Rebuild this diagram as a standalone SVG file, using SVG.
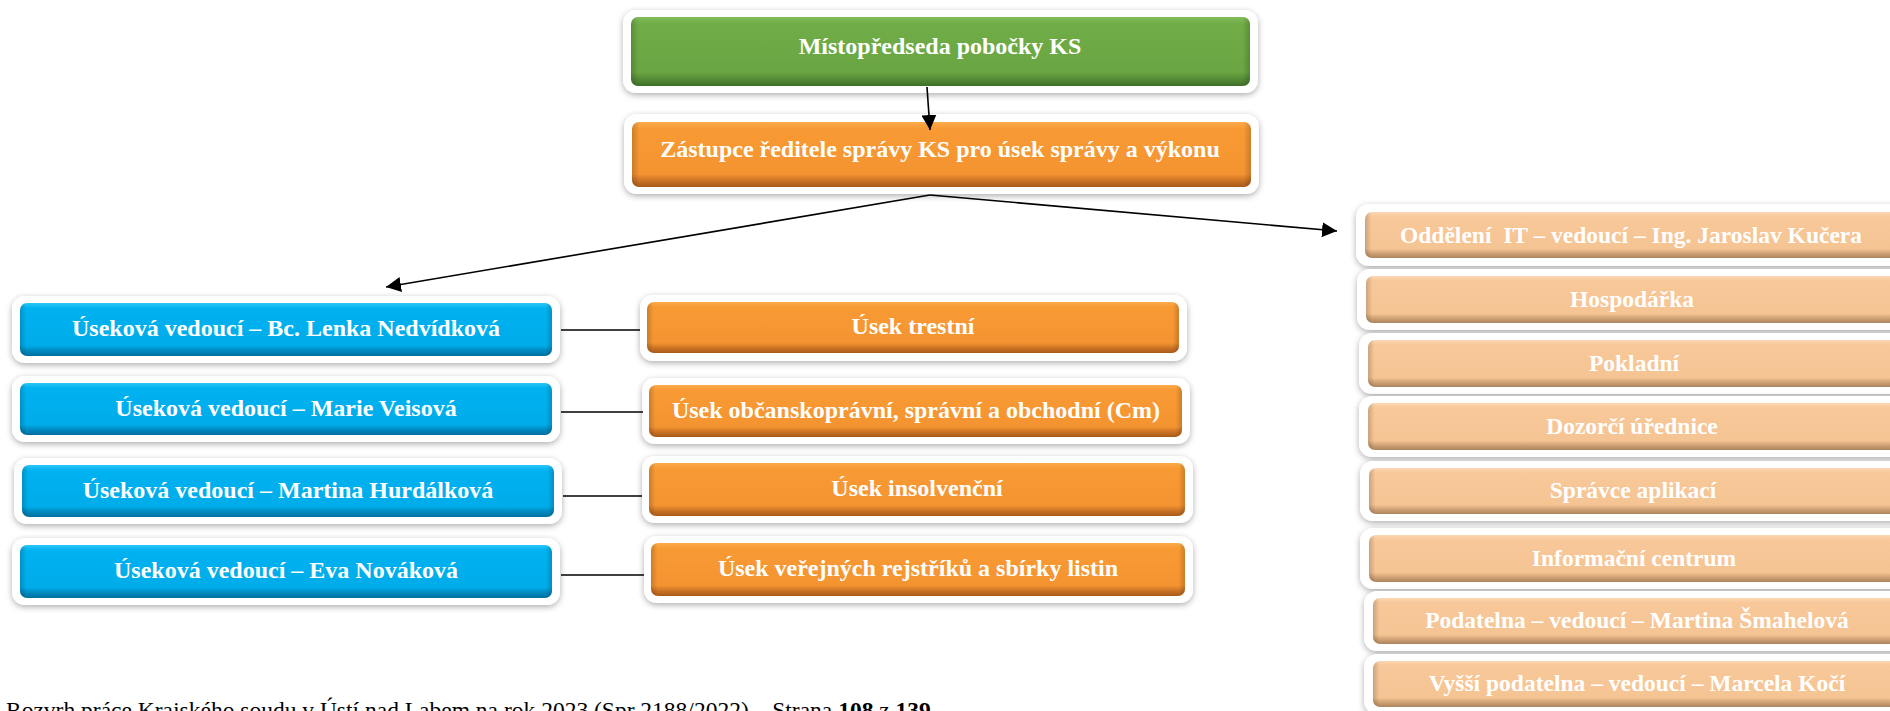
<svg xmlns="http://www.w3.org/2000/svg" width="1890" height="711" viewBox="0 0 1890 711">
<defs>
<filter id="sh" x="-5%" y="-40%" width="110%" height="180%">
<feDropShadow dx="0" dy="2" stdDeviation="3" flood-color="#000" flood-opacity="0.32"/>
</filter>
<linearGradient id="gGreen" x1="0" y1="0" x2="0" y2="1">
<stop offset="0" stop-color="#82bd5c"/><stop offset="0.1" stop-color="#70ad47"/><stop offset="0.8" stop-color="#69a643"/><stop offset="0.9" stop-color="#548c36"/><stop offset="1" stop-color="#3f6e28"/>
</linearGradient>
<linearGradient id="gOrange" x1="0" y1="0" x2="0" y2="1">
<stop offset="0" stop-color="#fcab4c"/><stop offset="0.1" stop-color="#f89a34"/><stop offset="0.8" stop-color="#f49431"/><stop offset="0.9" stop-color="#cc7325"/><stop offset="1" stop-color="#a85a18"/>
</linearGradient>
<linearGradient id="gBlue" x1="0" y1="0" x2="0" y2="1">
<stop offset="0" stop-color="#2cc6f8"/><stop offset="0.1" stop-color="#00b2f0"/><stop offset="0.8" stop-color="#00acea"/><stop offset="0.9" stop-color="#0089c0"/><stop offset="1" stop-color="#006f9d"/>
</linearGradient>
<linearGradient id="gPeach" x1="0" y1="0" x2="0" y2="1">
<stop offset="0" stop-color="#fcd7b2"/><stop offset="0.1" stop-color="#f8c89a"/><stop offset="0.8" stop-color="#f5c493"/><stop offset="0.9" stop-color="#cfa174"/><stop offset="1" stop-color="#ad845e"/>
</linearGradient>
<linearGradient id="gSide" x1="0" y1="0" x2="1" y2="0">
<stop offset="0" stop-color="#000" stop-opacity="0.18"/><stop offset="0.012" stop-color="#000" stop-opacity="0"/><stop offset="0.988" stop-color="#000" stop-opacity="0"/><stop offset="1" stop-color="#000" stop-opacity="0.18"/>
</linearGradient>
<marker id="ah" markerWidth="15" markerHeight="15" refX="15" refY="7.5" orient="auto" markerUnits="userSpaceOnUse">
<path d="M0,0 L15,7.5 L0,15 z" fill="#000"/>
</marker>
<style>
.frame{fill:#fff;filter:url(#sh)}
.green{fill:url(#gGreen)}
.orange{fill:url(#gOrange)}
.blue{fill:url(#gBlue)}
.peach{fill:url(#gPeach)}
.side{fill:url(#gSide)}
.tb{font-family:"Liberation Serif",serif;font-weight:bold;font-size:24px;fill:#fff;text-anchor:middle}
.tr{font-family:"Liberation Serif",serif;font-weight:bold;font-size:23.5px;fill:#fff;text-anchor:middle}
.conn{stroke:#000;stroke-width:1.6;fill:none}
.foot{font-family:"Liberation Serif",serif;font-size:23.5px;fill:#000}
</style>
</defs>
<rect width="1890" height="711" fill="#fff"/>

<g id="n-mistopredseda">
<rect class="frame" x="623" y="10" width="635" height="83" rx="13"/>
<rect class="green" x="631" y="17" width="619" height="69" rx="7"/>
<rect class="side" x="631" y="17" width="619" height="69" rx="7"/>
<text class="tb" x="940" y="54">Místopředseda pobočky KS</text>
</g>

<g id="n-zastupce">
<rect class="frame" x="624" y="114" width="635" height="80" rx="13"/>
<rect class="orange" x="632" y="122" width="619" height="65" rx="7"/>
<rect class="side" x="632" y="122" width="619" height="65" rx="7"/>
<text class="tb" x="940" y="157">Zástupce ředitele správy KS pro úsek správy a výkonu</text>
</g>

<g id="n-blue1">
<rect class="frame" x="12" y="296" width="548" height="67" rx="13"/>
<rect class="blue" x="20" y="303" width="532" height="53" rx="7"/>
<rect class="side" x="20" y="303" width="532" height="53" rx="7"/>
<text class="tb" x="286" y="336">Úseková vedoucí – Bc. Lenka Nedvídková</text>
</g>
<g id="n-blue2">
<rect class="frame" x="12" y="376" width="548" height="66" rx="13"/>
<rect class="blue" x="20" y="383" width="532" height="52" rx="7"/>
<rect class="side" x="20" y="383" width="532" height="52" rx="7"/>
<text class="tb" x="286" y="416">Úseková vedoucí – Marie Veisová</text>
</g>
<g id="n-blue3">
<rect class="frame" x="14" y="458" width="548" height="66" rx="13"/>
<rect class="blue" x="22" y="465" width="532" height="52" rx="7"/>
<rect class="side" x="22" y="465" width="532" height="52" rx="7"/>
<text class="tb" x="288" y="498">Úseková vedoucí – Martina Hurdálková</text>
</g>
<g id="n-blue4">
<rect class="frame" x="12" y="538" width="548" height="67" rx="13"/>
<rect class="blue" x="20" y="545" width="532" height="53" rx="7"/>
<rect class="side" x="20" y="545" width="532" height="53" rx="7"/>
<text class="tb" x="286" y="578">Úseková vedoucí – Eva Nováková</text>
</g>

<g id="n-trestni">
<rect class="frame" x="640" y="295" width="547" height="66" rx="13"/>
<rect class="orange" x="647" y="302" width="532" height="51" rx="7"/>
<rect class="side" x="647" y="302" width="532" height="51" rx="7"/>
<text class="tb" x="913" y="334">Úsek trestní</text>
</g>
<g id="n-obcansko">
<rect class="frame" x="642" y="378" width="548" height="66" rx="13"/>
<rect class="orange" x="649" y="385" width="533" height="52" rx="7"/>
<rect class="side" x="649" y="385" width="533" height="52" rx="7"/>
<text class="tb" x="916" y="418">Úsek občanskoprávní, správní a obchodní (Cm)</text>
</g>
<g id="n-insolvencni">
<rect class="frame" x="642" y="456" width="551" height="67" rx="13"/>
<rect class="orange" x="649" y="463" width="536" height="53" rx="7"/>
<rect class="side" x="649" y="463" width="536" height="53" rx="7"/>
<text class="tb" x="917" y="496">Úsek insolvenční</text>
</g>
<g id="n-rejstriky">
<rect class="frame" x="644" y="536" width="549" height="67" rx="13"/>
<rect class="orange" x="651" y="543" width="534" height="53" rx="7"/>
<rect class="side" x="651" y="543" width="534" height="53" rx="7"/>
<text class="tb" x="918" y="576">Úsek veřejných rejstříků a sbírky listin</text>
</g>

<g id="n-it">
<rect class="frame" x="1356" y="204" width="560" height="62" rx="13"/>
<rect class="peach" x="1365" y="212" width="540" height="46" rx="7"/>
<rect class="side" x="1365" y="212" width="540" height="46" rx="7"/>
<text class="tr" x="1631" y="243" xml:space="preserve">Oddělení  IT – vedoucí – Ing. Jaroslav Kučera</text>
</g>
<g id="n-hospodarka">
<rect class="frame" x="1357" y="269" width="560" height="61" rx="13"/>
<rect class="peach" x="1366" y="276" width="540" height="47" rx="7"/>
<rect class="side" x="1366" y="276" width="540" height="47" rx="7"/>
<text class="tr" x="1632" y="307">Hospodářka</text>
</g>
<g id="n-pokladni">
<rect class="frame" x="1359" y="333" width="560" height="61" rx="13"/>
<rect class="peach" x="1368" y="340" width="540" height="47" rx="7"/>
<rect class="side" x="1368" y="340" width="540" height="47" rx="7"/>
<text class="tr" x="1634" y="371">Pokladní</text>
</g>
<g id="n-dozorci">
<rect class="frame" x="1359" y="396" width="560" height="61" rx="13"/>
<rect class="peach" x="1368" y="403" width="540" height="47" rx="7"/>
<rect class="side" x="1368" y="403" width="540" height="47" rx="7"/>
<text class="tr" x="1632" y="434">Dozorčí úřednice</text>
</g>
<g id="n-spravce">
<rect class="frame" x="1360" y="461" width="560" height="60" rx="13"/>
<rect class="peach" x="1369" y="468" width="540" height="46" rx="7"/>
<rect class="side" x="1369" y="468" width="540" height="46" rx="7"/>
<text class="tr" x="1633" y="498">Správce aplikací</text>
</g>
<g id="n-infocentrum">
<rect class="frame" x="1360" y="528" width="560" height="61" rx="13"/>
<rect class="peach" x="1369" y="535" width="540" height="47" rx="7"/>
<rect class="side" x="1369" y="535" width="540" height="47" rx="7"/>
<text class="tr" x="1634" y="566">Informační centrum</text>
</g>
<g id="n-podatelna">
<rect class="frame" x="1364" y="591" width="560" height="60" rx="13"/>
<rect class="peach" x="1373" y="598" width="540" height="46" rx="7"/>
<rect class="side" x="1373" y="598" width="540" height="46" rx="7"/>
<text class="tr" x="1637" y="628">Podatelna – vedoucí – Martina Šmahelová</text>
</g>
<g id="n-vyssi">
<rect class="frame" x="1364" y="654" width="560" height="60" rx="13"/>
<rect class="peach" x="1373" y="661" width="540" height="46" rx="7"/>
<rect class="side" x="1373" y="661" width="540" height="46" rx="7"/>
<text class="tr" x="1637" y="691">Vyšší podatelna – vedoucí – Marcela Kočí</text>
</g>

<g id="connectors">
<line class="conn" x1="927" y1="87" x2="930" y2="130" marker-end="url(#ah)"/>
<line class="conn" x1="930" y1="195" x2="386" y2="287" marker-end="url(#ah)"/>
<line class="conn" x1="930" y1="195" x2="1337" y2="231" marker-end="url(#ah)"/>
<line class="conn" x1="561" y1="330" x2="640" y2="330"/>
<line class="conn" x1="561" y1="412" x2="643" y2="412"/>
<line class="conn" x1="563" y1="496" x2="642" y2="496"/>
<line class="conn" x1="561" y1="575" x2="644" y2="575"/>
</g>

<text class="foot" x="6" y="718">Rozvrh práce Krajského soudu v Ústí nad Labem na rok 2023 (Spr 2188/2022) – Strana <tspan font-weight="bold">108</tspan> z <tspan font-weight="bold">139</tspan></text>
</svg>
